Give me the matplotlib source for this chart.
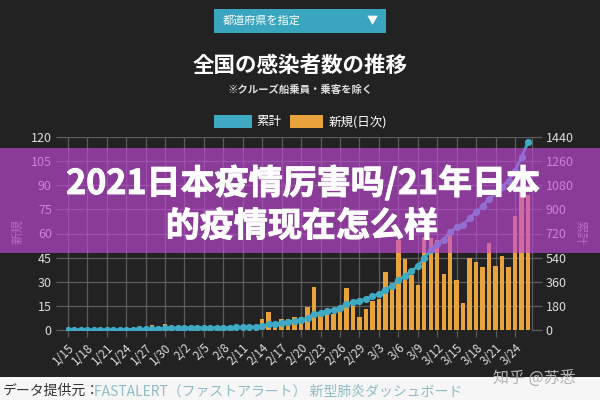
import numpy as np
import pandas as pd
import matplotlib
matplotlib.use('Agg')
import matplotlib.pyplot as plt
import matplotlib.patheffects as pe
from matplotlib.patches import Rectangle

plt.rcParams['font.family'] = ['Noto Sans CJK JP', 'DejaVu Sans']

# daily values 2020-01-15 .. 2020-03-26
dates = pd.date_range('2020-01-15', '2020-03-26')
day_labels = [f'{d.month}/{d.day}' for d in dates]

new_cases = [1, 0, 0, 0, 0, 0, 0, 0, 0, 1, 1, 1, 0, 3, 1, 4, 2, 2, 0, 0,
             1, 0, 1, 0, 0, 0, 1, 1, 1, 3, 7, 11, 5, 7, 7, 8, 8, 14, 27, 10,
             13, 10, 15, 26, 18, 8, 13, 18, 19, 36, 29, 56, 44, 34, 28, 58, 57, 56, 35, 62,
             31, 17, 45, 42, 39, 54, 40, 46, 39, 71, 87, 84]

total = [1, 1, 1, 1, 1, 1, 1, 1, 1, 2, 3, 4, 4, 7, 8, 12, 14, 16, 16, 16,
         17, 17, 18, 18, 18, 18, 19, 20, 21, 24, 31, 42, 47, 54, 61, 69, 77, 91, 117, 127,
         140, 151, 166, 192, 208, 218, 233, 250, 270, 300, 330, 370, 405, 440, 475, 540, 595, 645, 675, 730,
         765, 785, 835, 880, 925, 980, 1025, 1070, 1115, 1190, 1290, 1400]

left_ticks = [0, 15, 30, 45, 60, 75, 90, 105, 120]
right_ticks = [0, 180, 360, 540, 720, 900, 1080, 1260, 1440]

bg = '#222222'
grid_c = '#5c5c5c'
teal = '#40AAC4'
orange = '#E8A33C'
tick_c = '#dcdcdc'
cn = ['Noto Sans CJK SC', 'DejaVu Sans']

fig = plt.figure(figsize=(6, 4), dpi=100, facecolor=bg)
ax = fig.add_axes([0.1096, 0.175, 0.7769, 0.4825])
ax.set_facecolor(bg)

x = np.arange(len(new_cases))
ax.bar(x, new_cases, width=0.68, color=orange, zorder=2)
ax.set_xlim(-0.3, 71.6)
ax.set_ylim(0, 120)
ax.set_yticks(left_ticks)
ax.set_xticks(x[::3])
ax.set_xticklabels(day_labels[::3], rotation=45, ha='right', rotation_mode='anchor')
ax.grid(True, color=grid_c, lw=0.9, zorder=0)
ax.set_axisbelow(True)
ax.tick_params(axis='y', colors=grid_c, labelcolor=tick_c, length=7, width=0.9, pad=3, labelsize=9)
ax.tick_params(axis='x', colors=grid_c, labelcolor=tick_c, length=5, width=0.9, pad=3, labelsize=8.5)
for s in ['left', 'top', 'bottom']:
    ax.spines[s].set_visible(False)
ax.spines['right'].set_color(grid_c)

ax2 = ax.twinx()
ax2.plot(x, total, color=teal, lw=2, marker='o', markersize=4.2, zorder=3)
ax2.set_ylim(0, 1440)
ax2.set_yticks(right_ticks)
ax2.tick_params(axis='y', colors=grid_c, labelcolor=tick_c, length=7, width=0.9, pad=3, labelsize=9)
for s in ['left', 'top', 'bottom']:
    ax2.spines[s].set_visible(False)
ax2.spines['right'].set_color(grid_c)

fig.text(0.03, 0.42, '新規', rotation=90, color='#9a9a9a', fontsize=9, ha='center', va='center')
fig.text(0.967, 0.42, '累計', rotation=270, color='#9a9a9a', fontsize=9, ha='center', va='center')

# header: dropdown, title, legend
fig.patches.append(Rectangle((0.356, 0.9175), 0.288, 0.059, transform=fig.transFigure,
                             facecolor='#3AA5BF', edgecolor='none'))
fig.text(0.372, 0.9475, '都道府県を指定', color='white', fontsize=8, va='center')
fig.text(0.62, 0.9475, '▼', color='white', fontsize=8, ha='center', va='center')
fig.text(0.5, 0.8375, '全国の感染者数の推移', color='white', fontsize=15.5, fontweight='bold',
         ha='center', va='center')
fig.text(0.5, 0.775, '※クルーズ船乗員・乗客を除く', color='#dddddd', fontsize=7.5, fontweight='bold',
         ha='center', va='center')
fig.patches.append(Rectangle((0.357, 0.68), 0.063, 0.0325, transform=fig.transFigure,
                             facecolor=teal, edgecolor='none'))
fig.text(0.428, 0.696, '累計', color='white', fontsize=9, va='center')
fig.patches.append(Rectangle((0.483, 0.68), 0.055, 0.0325, transform=fig.transFigure,
                             facecolor=orange, edgecolor='none'))
fig.text(0.548, 0.696, '新規(日次)', color='white', fontsize=9, va='center')

# footer strip
fig.patches.append(Rectangle((0, 0), 1, 0.0575, transform=fig.transFigure,
                             facecolor='#f6f6f6', edgecolor='none', zorder=4))
fig.text(0.005, 0.022, 'データ提供元：', color='#333333', fontsize=10, va='center', zorder=6)
fig.text(0.157, 0.022, 'FASTALERT（ファストアラート） 新型肺炎ダッシュボード', color='#8fbcc6',
         fontsize=10, va='center', zorder=6)
fig.text(0.89, 0.055, '知乎 @苏悉', color='#b5b5b5', fontsize=11.5, ha='center', va='center',
         family=cn, zorder=6)

# purple banner over the chart
fig.patches.append(Rectangle((0, 0.3675), 1, 0.2625, transform=fig.transFigure,
                             facecolor='#C54ADB', alpha=0.635, edgecolor='none', zorder=5))
heavy = [pe.withStroke(linewidth=0.7, foreground='white')]
fig.text(0.505, 0.5425, '2021日本疫情厉害吗/21年日本', color='white', fontsize=24.5, fontweight='bold',
         ha='center', va='center', family=cn, zorder=6, path_effects=heavy)
fig.text(0.503, 0.435, '的疫情现在怎么样', color='white', fontsize=24.5, fontweight='bold',
         ha='center', va='center', family=cn, zorder=6, path_effects=heavy)

fig.savefig('out.png', dpi=100, facecolor=bg)
